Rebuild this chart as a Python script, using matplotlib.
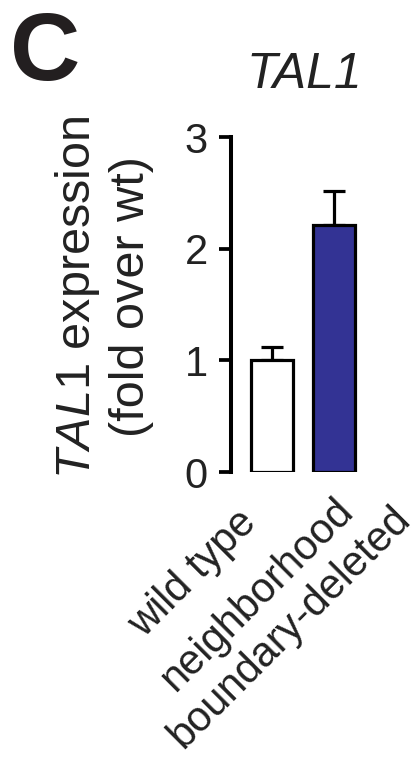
import numpy as np
import matplotlib
matplotlib.use("Agg")
import matplotlib.pyplot as plt

plt.rcParams['font.family'] = ['Liberation Sans', 'DejaVu Sans']
plt.rcParams['mathtext.fontset'] = 'custom'
plt.rcParams['mathtext.rm'] = 'Liberation Sans'
plt.rcParams['mathtext.it'] = 'Liberation Sans:italic'

# data
groups = ["wild type", "neighborhood\nboundary-deleted"]
means = [1.0, 2.21]
errors = [0.12, 0.31]
fills = ["white", "#333394"]
yticks = [0, 1, 2, 3]

W, H = 419, 779
fig = plt.figure(figsize=(W / 100, H / 100), dpi=100)
ax = fig.add_axes([0.5506, 0.394, 0.32, 0.430])

x = np.arange(len(groups))
lw = 2.3
ax.bar(x, means, width=0.67, color=fills, edgecolor="black", linewidth=lw, zorder=2)
ax.errorbar(x, means, yerr=[np.zeros(len(errors)), errors], fmt="none",
            ecolor="black", elinewidth=lw, capsize=8, capthick=lw, zorder=1)

ax.set_xlim(-0.666, 1.5)
ax.set_ylim(0, 3)
ax.set_yticks(yticks)
ax.set_yticklabels([str(t) for t in yticks])
ax.tick_params(axis="y", labelsize=30, width=lw + 0.4, length=8.5, pad=8,
               labelcolor="#222222")
ax.set_xticks([])
for s in ["top", "right", "bottom"]:
    ax.spines[s].set_visible(False)
ax.spines["left"].set_linewidth(lw + 0.6)

# category labels at 45 deg; the rotated box's top-right corner is placed
# (pixel positions measured from the reference)
label_corners = [(264, 502), (418, 466)]
for lab, (px, py) in zip(groups, label_corners):
    fig.text(px / W, 1 - py / H, lab, rotation=45, ha="right", va="top",
             fontsize=30, color="#222222", multialignment="center",
             linespacing=1.2)

fig.text(103 / W, 1 - 297 / H, "$\\mathit{TAL1}$ expression\n(fold over wt)",
         rotation=90, ha="center", va="center", fontsize=35,
         multialignment="center", linespacing=1.2, color="#222222")
fig.text(304 / W, 1 - 88 / H, "TAL1", style="italic", ha="center",
         va="baseline", fontsize=36, color="#222222")
fig.text(10 / W, 1 - 80 / H, "C", fontweight="bold", ha="left",
         va="baseline", fontsize=70, color="#231f20")

fig.savefig("out.png", dpi=100)
